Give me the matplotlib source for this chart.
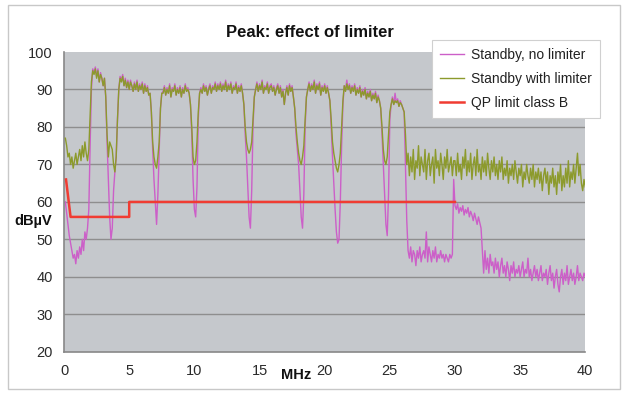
import numpy as np
import matplotlib
matplotlib.use("Agg")
import matplotlib.pyplot as plt
from matplotlib.patches import Rectangle

plt.rcParams['font.family'] = ['Liberation Sans', 'DejaVu Sans']

# frequency grid in MHz (0.1 MHz steps)
freq = np.round(np.arange(1, 401) * 0.1, 1)

# Standby, no limiter (dBuV), one row per MHz
no_limiter = [
    60, 57, 54, 51, 49, 47, 45, 46, 43.5, 47,
    45, 48, 46, 50, 47, 52, 50, 53, 58, 75,
    90, 95.5, 94.5, 96, 93.5, 95.5, 92, 94.5, 93, 91,
    93, 88, 76, 66, 56, 50, 53, 63, 68, 72,
    82, 90, 93.5, 92.5, 94, 91, 93, 90.5, 92.5, 90,
    92.5, 91, 89.5, 92, 90, 92.5, 89.5, 91.5, 90, 92,
    89, 91.5, 89.5, 91, 88.5, 89, 84, 74, 66, 60,
    54, 62, 74, 85, 89, 89.5, 91, 88.5, 90.5, 89,
    91.5, 88, 90.5, 89.5, 91.5, 88.5, 90.5, 89, 91, 88,
    90.5, 89, 91.5, 89.5, 90.5, 89, 86, 78, 66, 58,
    56, 64, 82, 89, 90.5, 89, 91.5, 89.5, 91, 88.5,
    90.5, 91.5, 89, 91, 90, 92, 89.5, 91.5, 90, 92,
    89.5, 91.5, 90, 92.5, 89.5, 91.5, 90, 92, 89, 91,
    90, 92, 89, 91, 89.5, 91.5, 89, 86, 78, 72,
    64, 56, 53, 63, 80, 88, 90, 92, 89.5, 91.5,
    90, 92.5, 89, 91, 90, 92, 89, 91, 91.5, 89.5,
    91, 88.5, 90.5, 91.5, 89, 91, 88, 90, 86, 89,
    91, 88.5, 91.5, 89.5, 91, 88, 85, 78, 74, 70,
    63, 56, 53, 62, 80, 88, 90, 92, 89.5, 91.5,
    90, 92.5, 89, 91.5, 90, 92, 88.5, 91, 89.5, 91.5,
    89, 91, 89, 87, 80, 72, 65, 58, 52, 49,
    50, 60, 75, 86, 91, 90, 92.5, 90, 91.5, 89,
    91, 89.5, 91.5, 88.5, 90.5, 89, 91, 88, 90, 88.5,
    90.5, 87.5, 89.5, 88, 90, 87, 89, 87.5, 89.5, 86.5,
    88.5, 87, 85, 78, 70, 62, 54, 51, 62, 82,
    86, 88, 86, 89, 86.5, 87.5, 85.5, 87, 86, 85,
    84, 70, 55, 47, 45, 48, 44, 47, 46, 43,
    47, 45, 48, 44, 46, 47, 45, 52, 44, 48,
    46, 44, 47, 45, 48, 44, 46, 45, 47, 45,
    46, 44, 46, 45, 44, 46, 45, 46, 66, 59,
    58, 59.5, 57, 58.5, 57.5, 59, 56.5, 58, 57, 58.5,
    56, 57.5, 56.5, 55, 57, 55.5, 54, 56, 54.5, 53,
    47, 41, 47, 42, 45, 41, 46, 43, 44, 41,
    45, 42, 44, 40, 43, 45, 41, 43, 40, 44,
    42, 39, 43, 41, 44, 40, 42, 41, 43, 40,
    42, 44, 40, 42, 41, 45, 40, 42, 39, 41,
    43, 40, 42, 39, 41, 43, 39, 41, 40, 42,
    38, 41, 43, 39, 41, 37, 40, 42, 38, 36,
    40, 42, 38, 41, 39, 43, 38, 40, 42, 39,
    41, 38, 40, 43, 39, 41, 40, 39, 41, 40,
]

# Standby with limiter (dBuV)
with_limiter = [
    77, 75, 72, 73, 70, 72, 69, 71, 73, 70,
    72, 74, 71, 75, 72, 76, 73, 71, 74, 83,
    92, 95, 94, 95.5, 93, 95, 92, 94, 93, 91,
    93, 88, 78, 72, 76, 75, 74, 70, 68, 72,
    82, 90, 93, 92, 93.5, 91, 92.5, 90.5, 92, 90,
    92, 91, 89.5, 91.5, 90, 92, 89.5, 91, 90, 91.5,
    89, 91, 89.5, 90.5, 88.5, 89, 84, 76, 72, 70,
    69, 72, 76, 85, 89, 89, 90.5, 88.5, 90, 89,
    91, 88, 90, 89.5, 91, 88.5, 90, 89, 90.5, 88,
    90, 89, 91, 89.5, 90, 89, 86, 80, 72, 70,
    71, 76, 84, 89, 90, 89, 91, 89.5, 90.5, 88.5,
    90, 91, 89, 90.5, 90, 91.5, 89.5, 91, 90, 91.5,
    89.5, 91, 90, 92, 89.5, 91, 90, 91.5, 89, 90.5,
    90, 91.5, 89, 90.5, 89.5, 91, 89, 86, 80, 76,
    74, 73, 74, 76, 82, 88, 90, 91.5, 89.5, 91,
    90, 92, 89, 90.5, 90, 91.5, 89, 90.5, 91, 89.5,
    90.5, 88.5, 90, 91, 89, 90.5, 88, 89.5, 86, 89,
    90.5, 88.5, 91, 89.5, 90.5, 88, 85, 80, 76, 73,
    71, 70, 72, 75, 82, 88, 90, 91.5, 89.5, 91,
    90, 92, 89, 91, 90, 91.5, 88.5, 90.5, 89.5, 91,
    89, 90.5, 89, 87, 82, 76, 73, 71, 69, 68,
    70, 73, 80, 87, 91, 89.5, 91.5, 90, 91, 89,
    90.5, 89.5, 91, 88.5, 90, 89, 90.5, 88, 89.5, 88.5,
    90, 87.5, 89, 88, 89.5, 87, 88.5, 87.5, 89, 86.5,
    88, 87, 85, 80, 74, 71, 70, 72, 78, 84,
    86, 87.5, 86, 87, 86.5, 87, 85.5, 86.5, 86, 85,
    84, 78, 70, 73, 67, 72, 68, 74, 66, 71,
    69, 75, 67, 72, 70, 68, 74, 66, 71, 73,
    67, 70, 72, 65, 74, 69, 71, 67, 73, 70,
    66, 72, 69, 74, 68, 70, 72, 67, 71, 71,
    67, 73, 68, 70, 66, 72, 69, 74, 67, 71,
    68, 73, 66, 70, 72, 67, 74, 68, 70, 66,
    72, 68, 71, 67, 73, 69, 66, 71, 68, 72,
    67, 70, 66, 71, 68, 72, 66, 69, 67, 71,
    65, 69, 67, 70, 66, 71, 68, 65, 69, 67,
    70, 64, 68, 66, 70, 67, 65, 69, 66, 70,
    64, 68, 66, 69, 65, 68, 63, 67, 69, 65,
    68, 62, 67, 65, 69, 64, 67, 62, 68, 65,
    70, 63, 67, 64, 69, 65, 71, 64, 68, 66,
    70, 65, 69, 73, 67, 70, 65, 63, 66, 64,
]

# QP limit class B
limit_freq = [0.15, 0.5, 5, 5, 30]
limit_level = [66, 56, 56, 60, 60]

y_ticks = [20, 30, 40, 50, 60, 70, 80, 90, 100]
x_ticks = [0, 5, 10, 15, 20, 25, 30, 35, 40]

fig = plt.figure(figsize=(6.28, 3.94), dpi=100)
fig.patches.append(Rectangle((0.012, 0.012), 0.976, 0.976, transform=fig.transFigure,
                             fill=False, edgecolor='#c8c8c8', linewidth=1))
ax = fig.add_axes([0.102, 0.107, 0.830, 0.761])
ax.set_facecolor('#c5c8cc')

for y in y_ticks[1:-1]:
    ax.axhline(y, color='#8e8e8e', linewidth=1, zorder=1)

ax.plot(freq, no_limiter, color='#cc5fc8', linewidth=1.0, label='Standby, no limiter', zorder=2)
ax.plot(freq, with_limiter, color='#8c9a2c', linewidth=1.0, label='Standby with limiter', zorder=3)
ax.plot(limit_freq, limit_level, color='#f03c32', linewidth=1.8, label='QP limit class B', zorder=4)

ax.set_xlim(0, 40)
ax.set_ylim(20, 100)
ax.set_xticks(x_ticks)
ax.set_yticks(y_ticks)
ax.tick_params(length=0, labelsize=10.5, labelcolor='#2a2a2a')
ax.tick_params(axis='x', pad=9)
ax.tick_params(axis='y', pad=8)
for side in ['top', 'right']:
    ax.spines[side].set_visible(False)
for side in ['left', 'bottom']:
    ax.spines[side].set_color('#888888')
    ax.spines[side].set_linewidth(1.2)

fig.text(0.493, 0.918, 'Peak: effect of limiter', ha='center', va='center',
         fontsize=12, fontweight='bold', color='#111111')
fig.text(0.053, 1 - 221 / 394, 'dBµV', ha='center', va='center',
         fontsize=10.5, fontweight='bold', color='#111111')
fig.text(296 / 628, 1 - 375 / 394, 'MHz', ha='center', va='center',
         fontsize=10.5, fontweight='bold', color='#111111')

leg = ax.legend(loc='upper left', bbox_to_anchor=(432 / 628, 1 - 40 / 394),
                bbox_transform=fig.transFigure, borderaxespad=0, fancybox=False,
                framealpha=1, edgecolor='#d0d0d0', fontsize=10, handlelength=1.7,
                labelspacing=0.7, borderpad=0.6, handletextpad=0.5)
leg.get_frame().set_linewidth(0.8)
for t in leg.get_texts():
    t.set_color('#222222')

fig.savefig('out.png', dpi=100)
